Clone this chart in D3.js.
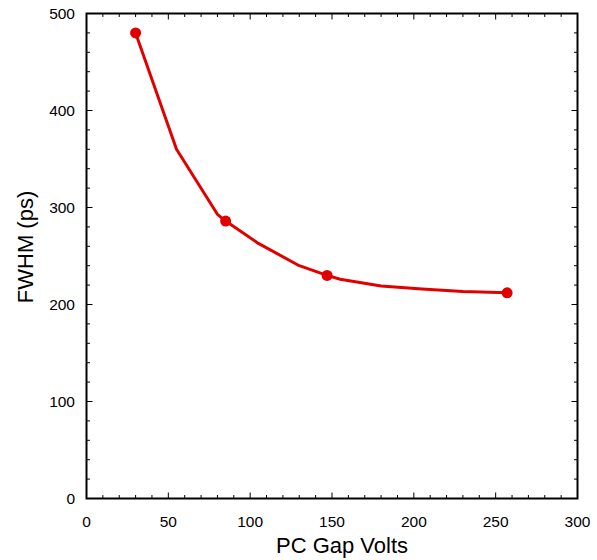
<!DOCTYPE html>
<html><head><meta charset="utf-8">
<script src="https://cdn.jsdelivr.net/npm/d3@7"></script>
<style>body{margin:0;background:#fff}</style>
</head><body>
<svg id="c" width="597" height="560"></svg>
<script>
const lineX = [30, 55, 80, 85, 105, 130, 147, 155, 180, 205, 230, 257];
const lineY = [480, 360, 293, 286, 263, 240, 230, 226, 219, 216, 213.5, 212];
const markX = [30, 85, 147, 257];
const markY = [480, 286, 230, 212];
const xTicks = [0, 50, 100, 150, 200, 250, 300];
const yTicks = [0, 100, 200, 300, 400, 500];
const xTitle = "PC Gap Volts";
const yTitle = "FWHM (ps)";

const svg = d3.select("#c");
const L = 86.5, R = 577.5, T = 13.5, B = 498.5;
const x = d3.scaleLinear().domain([0, 300]).range([L, R]);
const y = d3.scaleLinear().domain([0, 500]).range([B, T]);
const font = "Liberation Sans, Arial, Helvetica, sans-serif";
const red = "#e00000";

const g = svg.append("g");
const xMinor = d3.range(0, 301, 10), yMinor = d3.range(0, 501, 20);
xMinor.forEach(v => {
  const len = v % 50 === 0 ? 6 : 3.5;
  g.append("line").attr("x1", x(v)).attr("x2", x(v)).attr("y1", B).attr("y2", B - len).attr("stroke", "#000").attr("stroke-width", 1);
  g.append("line").attr("x1", x(v)).attr("x2", x(v)).attr("y1", T).attr("y2", T + len).attr("stroke", "#000").attr("stroke-width", 1);
});
yMinor.forEach(v => {
  const len = v % 100 === 0 ? 6 : 3.5;
  g.append("line").attr("y1", y(v)).attr("y2", y(v)).attr("x1", L).attr("x2", L + len).attr("stroke", "#000").attr("stroke-width", 1);
  g.append("line").attr("y1", y(v)).attr("y2", y(v)).attr("x1", R).attr("x2", R - len).attr("stroke", "#000").attr("stroke-width", 1);
});
g.append("rect").attr("x", L).attr("y", T).attr("width", R - L).attr("height", B - T)
  .attr("fill", "none").attr("stroke", "#000").attr("stroke-width", 2);

xTicks.forEach(v => {
  g.append("text").attr("x", x(v)).attr("y", 527).attr("text-anchor", "middle")
    .attr("font-family", font).attr("font-size", 15.5).text(v);
});
yTicks.forEach(v => {
  g.append("text").attr("x", 75).attr("y", y(v) + 5.5).attr("text-anchor", "end")
    .attr("font-family", font).attr("font-size", 15.5).text(v);
});
svg.append("text").attr("x", 342).attr("y", 553).attr("text-anchor", "middle")
  .attr("font-family", font).attr("font-size", 22).text(xTitle);
svg.append("text").attr("transform", `translate(33,247) rotate(-90)`).attr("text-anchor", "middle")
  .attr("font-family", font).attr("font-size", 22).text(yTitle);

const pts = lineX.map((v, i) => [v, lineY[i]]);
svg.append("path").datum(pts)
  .attr("d", d3.line().x(d => x(d[0])).y(d => y(d[1])))
  .attr("fill", "none").attr("stroke", red).attr("stroke-width", 3).attr("stroke-linejoin", "round");
svg.selectAll("circle.m").data(markX.map((v, i) => [v, markY[i]])).join("circle")
  .attr("cx", d => x(d[0])).attr("cy", d => y(d[1])).attr("r", 5.5).attr("fill", red);
</script>
</body></html>
